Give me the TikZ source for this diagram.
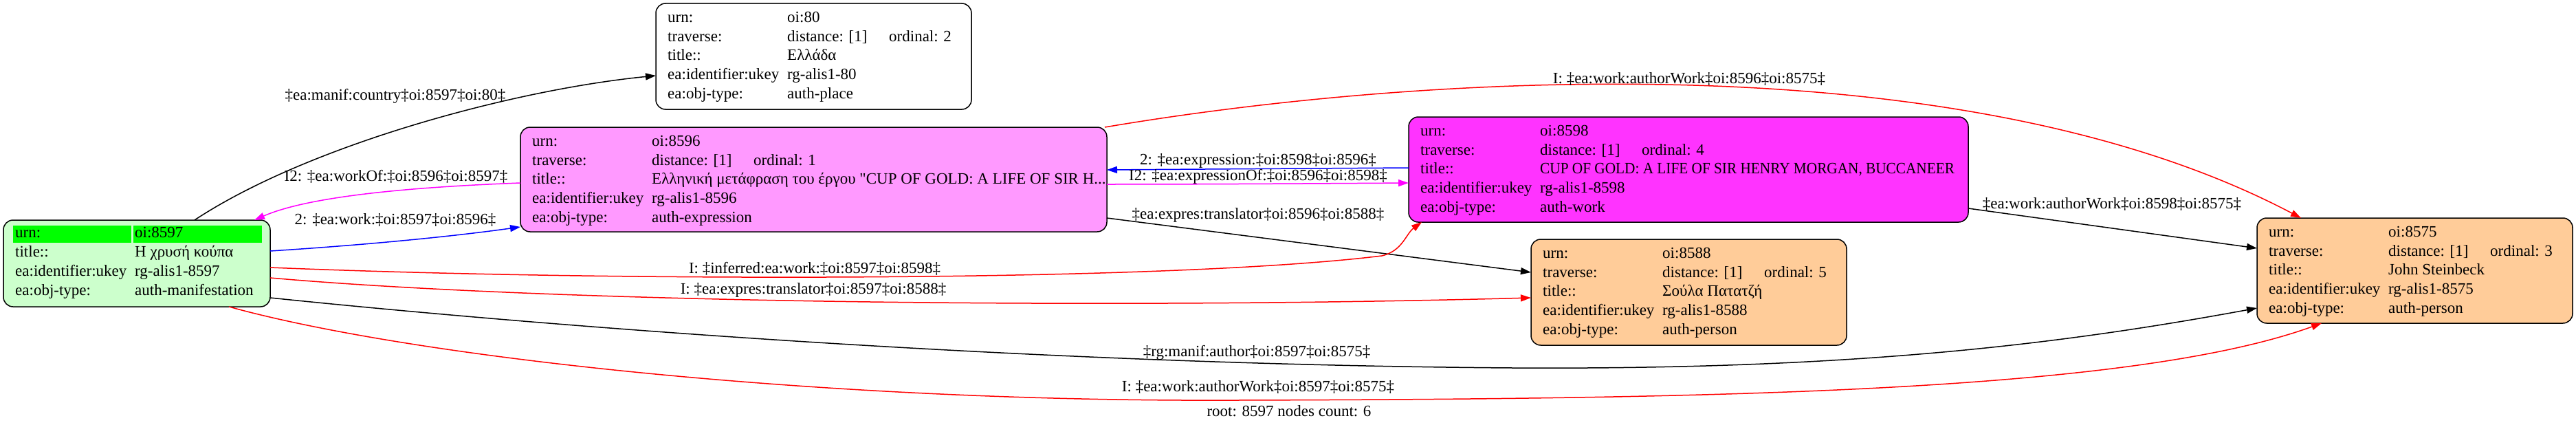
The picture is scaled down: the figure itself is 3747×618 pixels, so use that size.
\documentclass[tikz,border=0pt]{standalone}
\usepackage{fontspec}
\usepackage{graphicx}
\newfontfamily\lserif{Liberation Serif}
\usetikzlibrary{calc,arrows.meta}
\definecolor{mgreen}{HTML}{CCFFCC}
\definecolor{hgreen}{HTML}{00FF00}
\definecolor{lpink}{HTML}{FF99FF}
\definecolor{mpink}{HTML}{FF33FF}
\definecolor{peach}{HTML}{FFCC99}
\definecolor{emag}{HTML}{FF00FF}
\newcommand\kv[5]{%
  \node[txt] (#1k#2) at ($(#1.north west)+(17,#3+27.7*#2)$) {#4};
  \node[txt] (#1v#2) at ($(#1.north west)+(191,#3+27.7*#2)$) {#5};}
\begin{document}
\begin{tikzpicture}[x=1pt,y=-1pt,
  box/.style={draw=black, line width=1.5pt, rounded corners=14pt, inner sep=0pt, outer sep=0pt},
  txt/.style={font=\lserif\fontsize{23}{28}\selectfont, inner sep=0pt, anchor=base west},
  lbl/.style={font=\lserif\fontsize{23}{28}\selectfont, inner sep=0pt, anchor=center},
  edge/.style={line width=1.5pt, -{Triangle[length=15pt,width=10pt]}},
]
\useasboundingbox (0,0) rectangle (3747,618);

% boxes
\node[box, fill=white, minimum width=459pt, minimum height=154pt] (n80) at (1183.5,82) {};
\node[box, fill=lpink, minimum width=853pt, minimum height=152pt] (n8596) at (1183.5,261) {};
\node[box, fill=mgreen, minimum width=388pt, minimum height=126pt] (n8597) at (199,383) {};
\node[box, fill=mpink, minimum width=814pt, minimum height=153pt] (n8598) at (2456,246.5) {};
\node[box, fill=peach, minimum width=459pt, minimum height=154pt] (n8588) at (2456.5,425) {};
\node[box, fill=peach, minimum width=459pt, minimum height=153pt] (n8575) at (3512.5,393.5) {};

% highlight of root row
\fill[hgreen] ($(n8597.north west)+(14,8)$) rectangle ($(n8597.north west)+(186,33)$);
\fill[hgreen] ($(n8597.north west)+(189,8)$) rectangle ($(n8597.north west)+(376,33)$);

% edges
\draw[edge, black] ($(n8597.north west)+(278,0)$) .. controls (450,210) and (750,130) .. ($(n80.north west)+(0,105)$);
\draw[edge, emag] ($(n8596.north west)+(0,81)$) .. controls (600,272) and (450,285) .. ($(n8597.north west)+(365,0)$);
\draw[edge, blue] ($(n8597.north west)+(388,45)$) .. controls (520,357) and (650,345) .. ($(n8596.north west)+(0,145)$);
\draw[edge, red] ($(n8596.north west)+(850,0)$) .. controls (2050,110) and (2850,55) .. ($(n8575.north west)+(64,0)$);
\draw[edge, blue] ($(n8598.north west)+(0,74)$) .. controls (1900,245) and (1750,246) .. ($(n8596.north west)+(853,62)$);
\draw[edge, emag] ($(n8596.north west)+(853,83)$) .. controls (1750,268) and (1900,267) .. ($(n8598.north west)+(0,96)$);
\draw[edge, black] ($(n8596.north west)+(853,132)$) -- ($(n8588.north west)+(0,48)$);
\draw[edge, red] ($(n8597.north west)+(388,69)$) .. controls (900,410) and (1700,410) .. (2010,372) .. controls (2040,365) and (2045,340) .. ($(n8598.north west)+(19,153)$);
\draw[edge, red] ($(n8597.north west)+(388,84)$) .. controls (800,440) and (1600,450) .. ($(n8588.north west)+(0,85)$);
\draw[edge, black] ($(n8597.north west)+(388,113)$) .. controls (800,475) and (1500,530) .. (2200,535) .. controls (2700,538) and (3000,500) .. ($(n8575.north west)+(0,131)$);
\draw[edge, red] ($(n8597.north west)+(328,126)$) .. controls (600,520) and (1200,585) .. (1800,582) .. controls (2500,580) and (3100,570) .. ($(n8575.north west)+(94,153)$);
\draw[edge, black] ($(n8598.north west)+(814,133)$) -- ($(n8575.north west)+(0,44)$);

% edge labels
\node[lbl] (l1) at (575,140) {‡ea:manif:country‡oi:8597‡oi:80‡};
\node[lbl] (l2) at (576,257) {I2: ‡ea:workOf:‡oi:8596‡oi:8597‡};
\node[lbl] (l3) at (575,320) {2: ‡ea:work:‡oi:8597‡oi:8596‡};
\node[lbl] (l4) at (2457,115) {I: ‡ea:work:authorWork‡oi:8596‡oi:8575‡};
\node[lbl] (l5) at (1830,234) {2: ‡ea:expression:‡oi:8598‡oi:8596‡};
\node[lbl] (l6) at (1830,257) {I2: ‡ea:expressionOf:‡oi:8596‡oi:8598‡};
\node[lbl] (l7) at (1830,313) {‡ea:expres:translator‡oi:8596‡oi:8588‡};
\node[lbl] (l8) at (1185,391) {I: ‡inferred:ea:work:‡oi:8597‡oi:8598‡};
\node[lbl] (l9) at (1183,422) {I: ‡ea:expres:translator‡oi:8597‡oi:8588‡};
\node[lbl] (l10) at (1828,513) {‡rg:manif:author‡oi:8597‡oi:8575‡};
\node[lbl] (l11) at (1830,563) {I: ‡ea:work:authorWork‡oi:8597‡oi:8575‡};
\node[lbl] (l12) at (3072,297) {‡ea:work:authorWork‡oi:8598‡oi:8575‡};
\node[lbl] (cap) at (1875,598) {root: 8597 nodes count: 6};

% node texts
\kv{n80}{0}{27.3}{urn:}{oi:80}
\kv{n80}{1}{27.3}{traverse:}{distance: [1]}
\kv{n80}{2}{27.3}{title::}{Ελλάδα}
\kv{n80}{3}{27.3}{ea:identifier:ukey}{rg-alis1-80}
\kv{n80}{4}{27.3}{ea:obj-type:}{auth-place}
\node[txt] (n80o) at ($(n80.north west)+(339,55)$) {ordinal: 2};

\kv{n8596}{0}{27.3}{urn:}{oi:8596}
\kv{n8596}{1}{27.3}{traverse:}{distance: [1]}
\kv{n8596}{2}{27.3}{title::}{Ελληνική μετάφραση του έργου "CUP OF GOLD: A LIFE OF SIR H...}
\kv{n8596}{3}{27.3}{ea:identifier:ukey}{rg-alis1-8596}
\kv{n8596}{4}{27.3}{ea:obj-type:}{auth-expression}
\node[txt] (n8596o) at ($(n8596.north west)+(339,55)$) {ordinal: 1};

\kv{n8597}{0}{25.9}{urn:}{oi:8597}
\kv{n8597}{1}{25.9}{title::}{Η χρυσή κούπα}
\kv{n8597}{2}{25.9}{ea:identifier:ukey}{rg-alis1-8597}
\kv{n8597}{3}{25.9}{ea:obj-type:}{auth-manifestation}

\kv{n8598}{0}{27.3}{urn:}{oi:8598}
\kv{n8598}{1}{27.3}{traverse:}{distance: [1]}
\kv{n8598}{2}{27.3}{title::}{\scalebox{0.925}[1]{CUP OF GOLD: A LIFE OF SIR HENRY MORGAN, BUCCANEER}}
\kv{n8598}{3}{27.3}{ea:identifier:ukey}{rg-alis1-8598}
\kv{n8598}{4}{27.3}{ea:obj-type:}{auth-work}
\node[txt] (n8598o) at ($(n8598.north west)+(339,55)$) {ordinal: 4};

\kv{n8588}{0}{27.3}{urn:}{oi:8588}
\kv{n8588}{1}{27.3}{traverse:}{distance: [1]}
\kv{n8588}{2}{27.3}{title::}{Σούλα Πατατζή}
\kv{n8588}{3}{27.3}{ea:identifier:ukey}{rg-alis1-8588}
\kv{n8588}{4}{27.3}{ea:obj-type:}{auth-person}
\node[txt] (n8588o) at ($(n8588.north west)+(339,55)$) {ordinal: 5};

\kv{n8575}{0}{27.3}{urn:}{oi:8575}
\kv{n8575}{1}{27.3}{traverse:}{distance: [1]}
\kv{n8575}{2}{27.3}{title::}{John Steinbeck}
\kv{n8575}{3}{27.3}{ea:identifier:ukey}{rg-alis1-8575}
\kv{n8575}{4}{27.3}{ea:obj-type:}{auth-person}
\node[txt] (n8575o) at ($(n8575.north west)+(339,55)$) {ordinal: 3};
\end{tikzpicture}
\end{document}
